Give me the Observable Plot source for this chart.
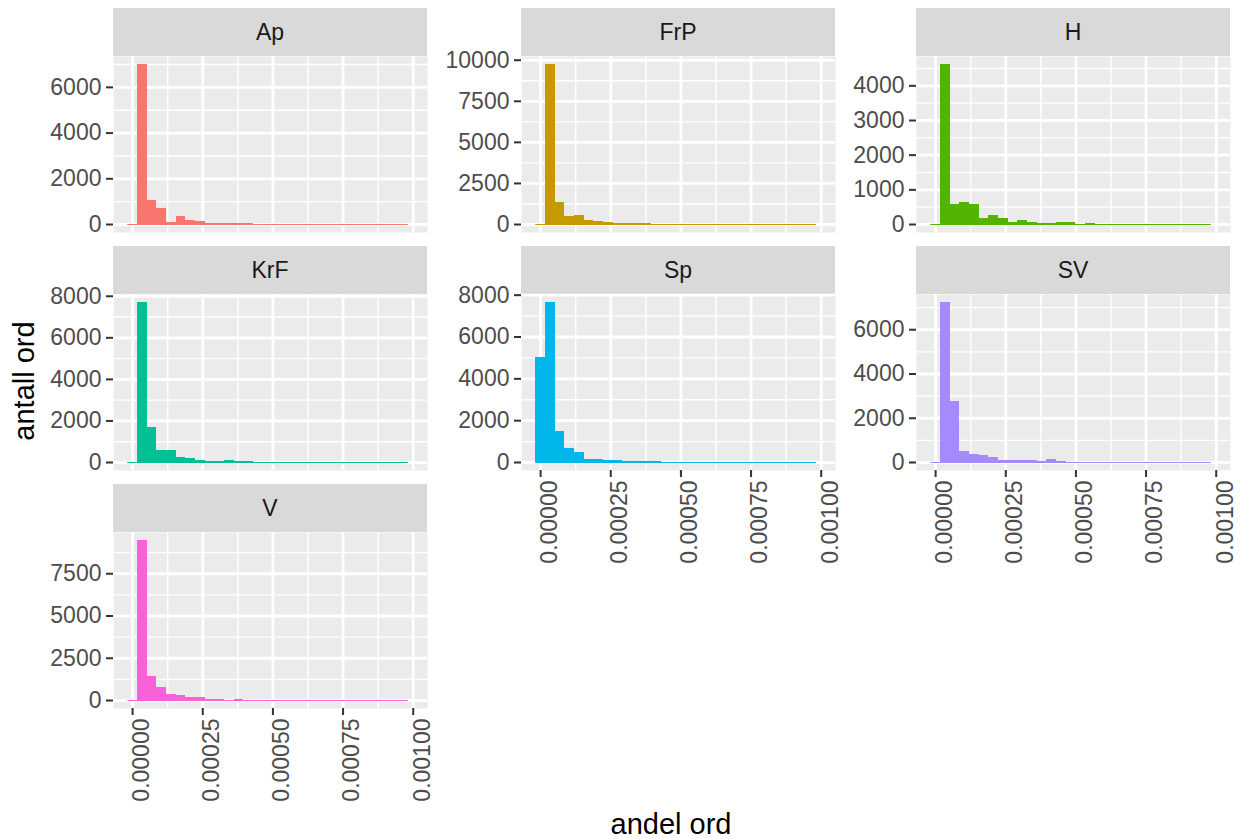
<!DOCTYPE html>
<html><head><meta charset="utf-8">
<script src="https://cdn.jsdelivr.net/npm/d3@7"></script>
<script src="https://cdn.jsdelivr.net/npm/@observablehq/plot@0.6"></script>
<style>
body{margin:0;background:#fff;}
#chart{position:relative;width:1243px;height:839px;font-family:'Liberation Sans',Arial,Helvetica,sans-serif;overflow:hidden;background:#fff;}
.strip{position:absolute;background:#D9D9D9;color:#1A1A1A;font-size:23px;display:flex;align-items:center;justify-content:center;}
.panel{position:absolute;}
.title{position:absolute;color:#000;font-size:29px;white-space:nowrap;line-height:1;}
</style></head><body><div id="chart"></div>
<script>
// ---- data ----
const groups = ["Ap", "FrP", "H", "KrF", "Sp", "SV", "V"];
const colors = ["#F8766D", "#C49A00", "#53B400", "#00C094", "#00B6EB", "#A58AFF", "#FB61D7"];

// histogram counts per bin (29 bins)
const countsAp  = [0, 7000, 1070, 715, 100, 365, 190, 145, 60, 60, 60, 60, 55, 20, 15, 12, 10, 8, 6, 5, 4, 3, 3, 2, 2, 1, 1, 1, 1];
const countsFrP = [0, 9740, 1360, 510, 570, 265, 205, 140, 80, 80, 80, 80, 30, 20, 15, 12, 10, 8, 6, 5, 4, 3, 3, 2, 2, 1, 1, 1, 1];
const countsH   = [0, 4615, 587, 644, 587, 183, 269, 183, 67, 125, 67, 38, 38, 67, 67, 10, 38, 8, 6, 5, 4, 3, 3, 2, 2, 1, 1, 1, 1];
const countsKrF = [0, 7700, 1700, 600, 600, 250, 200, 110, 60, 40, 80, 70, 70, 15, 10, 8, 6, 5, 4, 3, 3, 2, 2, 1, 1, 1, 1, 0, 0];
const countsSp  = [5000, 7650, 1490, 672, 480, 144, 144, 96, 96, 48, 48, 48, 48, 15, 10, 8, 6, 5, 4, 3, 3, 2, 2, 1, 1, 1, 1, 0, 0];
const countsSV  = [0, 7230, 2750, 480, 350, 300, 230, 100, 80, 80, 100, 60, 120, 30, 20, 10, 8, 6, 5, 4, 3, 3, 2, 2, 1, 1, 1, 0, 0];
const countsV   = [0, 9467, 1400, 750, 375, 276, 197, 197, 79, 79, 5, 79, 15, 12, 10, 8, 6, 5, 4, 3, 3, 2, 2, 1, 1, 1, 1, 0, 0];

// y tick values per panel
const yTicksAp  = [0, 2000, 4000, 6000];
const yTicksFrP = [0, 2500, 5000, 7500, 10000];
const yTicksH   = [0, 1000, 2000, 3000, 4000];
const yTicksKrF = [0, 2000, 4000, 6000, 8000];
const yTicksSp  = [0, 2000, 4000, 6000, 8000];
const yTicksSV  = [0, 2000, 4000, 6000];
const yTicksV   = [0, 2500, 5000, 7500];

// x ticks
const xTicks = [0, 0.00025, 0.0005, 0.00075, 0.001];
const xTickLabels = ["0.00000", "0.00025", "0.00050", "0.00075", "0.00100"];

const binWidth = 0.001 / 29;
const binStart = -binWidth / 2;

const xTitle = "andel ord";
const yTitle = "antall ord";

// ---- layout ----
const colLeft = [113, 521, 916];
const stripTop = [8, 246, 484];
const stripH = 48;
const PW = 314, PH = 176;
const ML = 110, MR = 6, MB = 110;
const xDomain = [-0.0000681, 0.0010509];

const panels = [
  {name: "Ap",  counts: countsAp,  ticks: yTicksAp,  col: 0, row: 0, xAxis: false},
  {name: "FrP", counts: countsFrP, ticks: yTicksFrP, col: 1, row: 0, xAxis: false},
  {name: "H",   counts: countsH,   ticks: yTicksH,   col: 2, row: 0, xAxis: false},
  {name: "KrF", counts: countsKrF, ticks: yTicksKrF, col: 0, row: 1, xAxis: false},
  {name: "Sp",  counts: countsSp,  ticks: yTicksSp,  col: 1, row: 1, xAxis: true},
  {name: "SV",  counts: countsSV,  ticks: yTicksSV,  col: 2, row: 1, xAxis: true},
  {name: "V",   counts: countsV,   ticks: yTicksV,   col: 0, row: 2, xAxis: true}
];

function minorOf(ticks, domain) {
  const step = ticks[1] - ticks[0];
  const out = [];
  for (let v = ticks[0] - step / 2; v <= domain[1]; v += step) {
    if (v >= domain[0] && v <= domain[1]) out.push(v);
  }
  return out;
}

const chart = document.getElementById("chart");
const xMinor = minorOf(xTicks, xDomain);
const fmtX = d3.scaleOrdinal(xTicks, xTickLabels);

panels.forEach(p => {
  const color = colors[groups.indexOf(p.name)];
  const bins = p.counts.map((c, i) => ({x1: binStart + i * binWidth, x2: binStart + (i + 1) * binWidth, count: c}));
  const max = d3.max(p.counts);
  const yDomain = [-0.05 * max, 1.05 * max];
  const yMinor = minorOf(p.ticks, yDomain);
  const left = colLeft[p.col];
  const top = stripTop[p.row];

  const strip = document.createElement("div");
  strip.className = "strip";
  strip.style.left = left + "px";
  strip.style.top = top + "px";
  strip.style.width = PW + "px";
  strip.style.height = stripH + "px";
  strip.textContent = p.name;
  chart.appendChild(strip);

  const plot = Plot.plot({
    width: ML + PW + MR,
    height: PH + MB,
    marginLeft: ML, marginRight: MR, marginTop: 0, marginBottom: MB,
    style: {background: "transparent", fontFamily: "'Liberation Sans', Arial, Helvetica, sans-serif", overflow: "visible", color: "#333333"},
    x: {domain: xDomain, label: null, ...(p.xAxis ? {} : {axis: null})},
    y: {domain: yDomain, label: null},
    marks: [
      Plot.frame({fill: "#EBEBEB", stroke: "none"}),
      Plot.ruleX(xMinor, {stroke: "#FFFFFF", strokeWidth: 1.4}),
      Plot.ruleY(yMinor, {stroke: "#FFFFFF", strokeWidth: 1.4}),
      Plot.ruleX(xTicks, {stroke: "#FFFFFF", strokeWidth: 2.8}),
      Plot.ruleY(p.ticks, {stroke: "#FFFFFF", strokeWidth: 2.8}),
      Plot.ruleY([0], {x1: bins[0].x1, x2: bins[bins.length - 1].x2, stroke: color, strokeWidth: 1.2}),
      Plot.rectY(bins, {x1: "x1", x2: "x2", y: "count", fill: color, shapeRendering: "crispEdges"}),
      Plot.axisY(p.ticks, {label: null, tickSize: 7, tickPadding: 5, fontSize: 23, fill: "#4D4D4D", stroke: "#333333", strokeWidth: 2, tickFormat: d => String(d)}),
      p.xAxis ? Plot.axisX(xTicks, {label: null, tickSize: 7, tickPadding: 3, tickRotate: -90, textAnchor: "end", lineAnchor: "top", fontSize: 23, fill: "#4D4D4D", stroke: "#333333", strokeWidth: 2, tickFormat: d => fmtX(d)}) : null
    ]
  });
  const wrap = document.createElement("div");
  wrap.className = "panel";
  wrap.style.left = (left - ML) + "px";
  wrap.style.top = (top + stripH) + "px";
  wrap.style.width = (ML + PW + MR) + "px";
  wrap.appendChild(plot);
  chart.appendChild(wrap);
});

const yt = document.createElement("div");
yt.className = "title";
yt.textContent = yTitle;
yt.style.left = "24px"; yt.style.top = "381px";
yt.style.transform = "translate(-50%,-50%) rotate(-90deg)";
chart.appendChild(yt);

const xt = document.createElement("div");
xt.className = "title";
xt.textContent = xTitle;
xt.style.left = "671px"; xt.style.top = "824px";
xt.style.transform = "translate(-50%,-50%)";
chart.appendChild(xt);
</script>
</body></html>
